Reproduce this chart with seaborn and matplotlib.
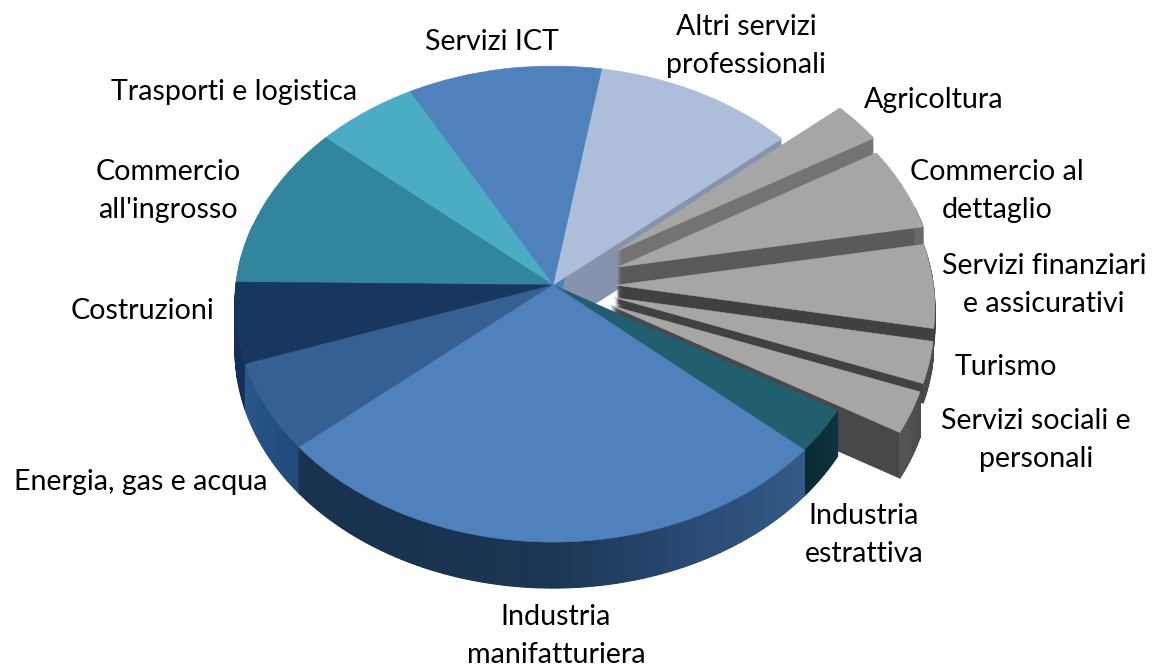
import numpy as np
import matplotlib
matplotlib.use('Agg')
import matplotlib.pyplot as plt
import seaborn as sns
from matplotlib.patches import Wedge
from matplotlib.transforms import Transform, Affine2D

# dati, in senso orario a partire da Agricoltura
settori = ['Agricoltura', 'Commercio al dettaglio', 'Servizi finanziari e assicurativi', 'Turismo',
           'Servizi sociali e personali', 'Industria estrattiva', 'Industria manifatturiera',
           'Energia, gas e acqua', 'Costruzioni', "Commercio all'ingrosso",
           'Trasporti e logistica', 'Servizi ICT', 'Altri servizi professionali']
quote = [2.8, 5.7, 5.7, 2.8, 2.8, 3.0, 27.3, 6.0, 5.5, 11.2, 5.6, 10.7, 11.1]

etichette = ['Agricoltura', 'Commercio al\ndettaglio', 'Servizi finanziari\ne assicurativi', 'Turismo',
             'Servizi sociali e\npersonali', 'Industria\nestrattiva', 'Industria\nmanifatturiera',
             'Energia, gas e acqua', 'Costruzioni', "Commercio\nall'ingrosso",
             'Trasporti e logistica', 'Servizi ICT', 'Altri servizi\nprofessionali']
pos_etichette = [(934, 100), (997, 191), (1044, 285), (1006, 367), (1036, 440), (864, 535), (556, 636),
                 (141, 482), (143, 311), (168, 191), (234, 92), (492, 42), (746, 46)]

esplosi = [0.25, 0.22, 0.2, 0.2, 0.2, 0, 0, 0, 0, 0, 0, 0, 0]
colori = ['#A6A6A6', '#A6A6A6', '#A6A6A6', '#A6A6A6', '#A6A6A6', '#215F6E', '#4F81BD',
          '#366092', '#17375E', '#31859C', '#4BACC6', '#4F81BD', '#ADBDDA']
# colore del taglio e del bordo esterno (sfumatura in senso orario)
pareti = ['#737373', '#5A5A5A', '#414141', '#414141', '#484848', '#0C2F3A', '#1A3350',
          '#24507F', '#14305A', '#31859C', '#4BACC6', '#4F81BD', '#8793AC']
bordi = [('#8A8A8A', '#8A8A8A'), ('#6A6A6A', '#6A6A6A'), ('#414141', '#414141'), ('#4A4A4A', '#4A4A4A'),
         ('#565656', '#4A4A4A'), ('#0A2A33', '#0C3540'), ('#19324F', '#19324F', '#1C3655', '#2A4C75', '#355C8A'),
         ('#2A5888', '#20497A'), ('#15305A', '#14305A'), ('#31859C', '#31859C'),
         ('#4BACC6', '#4BACC6'), ('#4F81BD', '#4F81BD'), ('#8793AC', '#8793AC')]
# finanziari e turismo piu' bassi, altrimenti sporgono a destra
spessori = [46, 46, 18, 20, 46, 46, 46, 46, 46, 46, 46, 46, 46]

# ordine di disegno delle pareti, dal fondo verso l'osservatore
ordine = [12, 11, 10, 9, 8, 7, 0, 1, 2, 3, 4, 5, 6]

CX, CY, RX, RY, K = 553, 285, 317, 236.5, 0.08


# proiezione del disco in prospettiva, risultato in pixel
class Prospettiva(Transform):
    input_dims = 2
    output_dims = 2

    def transform_non_affine(self, values):
        values = np.asarray(values, dtype=float)
        w = 1 + K * values[:, 1]
        return np.column_stack([CX + RX * values[:, 0] / w, CY - RY * values[:, 1] / w])


sns.set_theme(style='white')
plt.rcParams['font.family'] = ['Lato', 'DejaVu Sans']

fig = plt.figure(figsize=(11.52, 6.71), dpi=100)
ax = fig.add_axes([0, 0, 1, 1])

wedges, _ = ax.pie(quote, explode=esplosi, colors=colori, startangle=40.6, counterclock=False,
                   wedgeprops={'linewidth': 0.4})
ax.set_aspect('auto')
ax.set_xlim(0, 1152)
ax.set_ylim(671, 0)
ax.axis('off')

prosp = Prospettiva()
z = 1
for i in ordine:
    w = wedges[i]
    # pareti del settore: copie impilate verso il basso
    for k in range(spessori[i], 0, -1):
        copia = Wedge(w.center, w.r, w.theta1, w.theta2, facecolor=pareti[i], edgecolor='none', zorder=z)
        ax.add_patch(copia)
        copia.set_transform(prosp + Affine2D().translate(0, k) + ax.transData)
    z += 1
    # bordo esterno con sfumatura
    angoli = np.arange(w.theta1, w.theta2 + 1, 1.0)
    angoli[-1] = w.theta2
    sfumatura = sns.blend_palette(list(bordi[i]), n_colors=len(angoli))
    for a0, a1, col in zip(angoli[:-1], angoli[1:], sfumatura):
        if np.sin(np.radians(a0)) > 0.25 and np.sin(np.radians(a1)) > 0.25:
            continue
        rim = np.array([[np.cos(np.radians(a)), np.sin(np.radians(a))] for a in (a0, a1)]) + w.center
        p = prosp.transform_non_affine(rim)
        ax.fill([p[0, 0], p[1, 0], p[1, 0], p[0, 0]],
                [p[0, 1], p[1, 1], p[1, 1] + spessori[i], p[0, 1] + spessori[i]],
                color=col, lw=0.8, zorder=z)
    z += 1

# le facce superiori vanno sopra tutte le pareti
for i in ordine:
    w = wedges[i]
    w.set_edgecolor(colori[i])
    w.set_transform(prosp + ax.transData)
    w.set_zorder(z)
    z += 1

for testo, (x, y) in zip(etichette, pos_etichette):
    ax.text(x, y, testo, ha='center', va='center', fontsize=20.6, color='black',
            linespacing=1.55, zorder=z)

fig.savefig('out.png', dpi=100)
